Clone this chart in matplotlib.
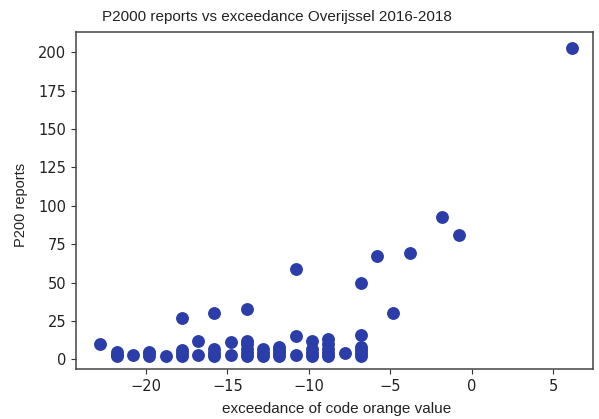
import matplotlib
matplotlib.use("Agg")
import matplotlib.pyplot as plt

# exceedance of code orange value (x) and P2000 reports (y), per column
exceedance = [-22.8, -21.8, -20.8, -19.8, -18.8, -17.8, -16.8, -15.8, -14.8,
              -13.8, -12.8, -11.8, -10.8, -9.8, -8.8, -7.8, -6.8, -5.8,
              -4.8, -3.8, -1.8, -0.8, 6.2]
reports = [
    [10],
    [2, 3, 5],
    [3],
    [2, 4, 5],
    [2],
    [27, 2, 4, 6],
    [12, 3],
    [30, 2, 4, 7],
    [11, 3],
    [33, 2, 4, 7, 10, 12],
    [2, 4, 7],
    [2, 4, 6, 8],
    [59, 15, 3],
    [2, 4, 7, 12],
    [2, 4, 7, 10, 13],
    [4],
    [50, 16, 2, 4, 6, 8],
    [67],
    [30],
    [69],
    [93],
    [81],
    [203],
]
x_ticks = [-20, -15, -10, -5, 0, 5]
y_ticks = [0, 25, 50, 75, 100, 125, 150, 175, 200]

xs, ys = [], []
for xv, col in zip(exceedance, reports):
    for yv in col:
        xs.append(xv)
        ys.append(yv)

fig = plt.figure(figsize=(5.99, 4.19), dpi=100)
ax = fig.add_axes([0.1269, 0.1193, 0.8631, 0.8043])
ax.scatter(xs, ys, s=68, color="#2b3da8", zorder=3)

ax.set_xlim(-24.3, 7.46)
ax.set_ylim(-6.3, 213.2)
ax.set_xticks(x_ticks)
ax.set_yticks(y_ticks)
ax.tick_params(labelsize=10.5, colors="#333333", labelcolor="#222222")
for sp in ax.spines.values():
    sp.set_color("#444444")
    sp.set_linewidth(1.1)

fig.text(277 / 599, 1 - 17 / 419, "P2000 reports vs exceedance Overijssel 2016-2018",
         fontsize=11, family="Liberation Sans", color="#222222",
         ha="center", va="center")
ax.set_xlabel("exceedance of code orange value", fontsize=11,
              family="Liberation Sans", color="#222222")
ax.xaxis.set_label_coords(0.505, -0.098)
ax.set_ylabel("P200 reports", fontsize=10.5, family="Liberation Sans",
              color="#222222")
ax.yaxis.set_label_coords(-0.092, 0.4866)

fig.savefig("out.png", dpi=100)
